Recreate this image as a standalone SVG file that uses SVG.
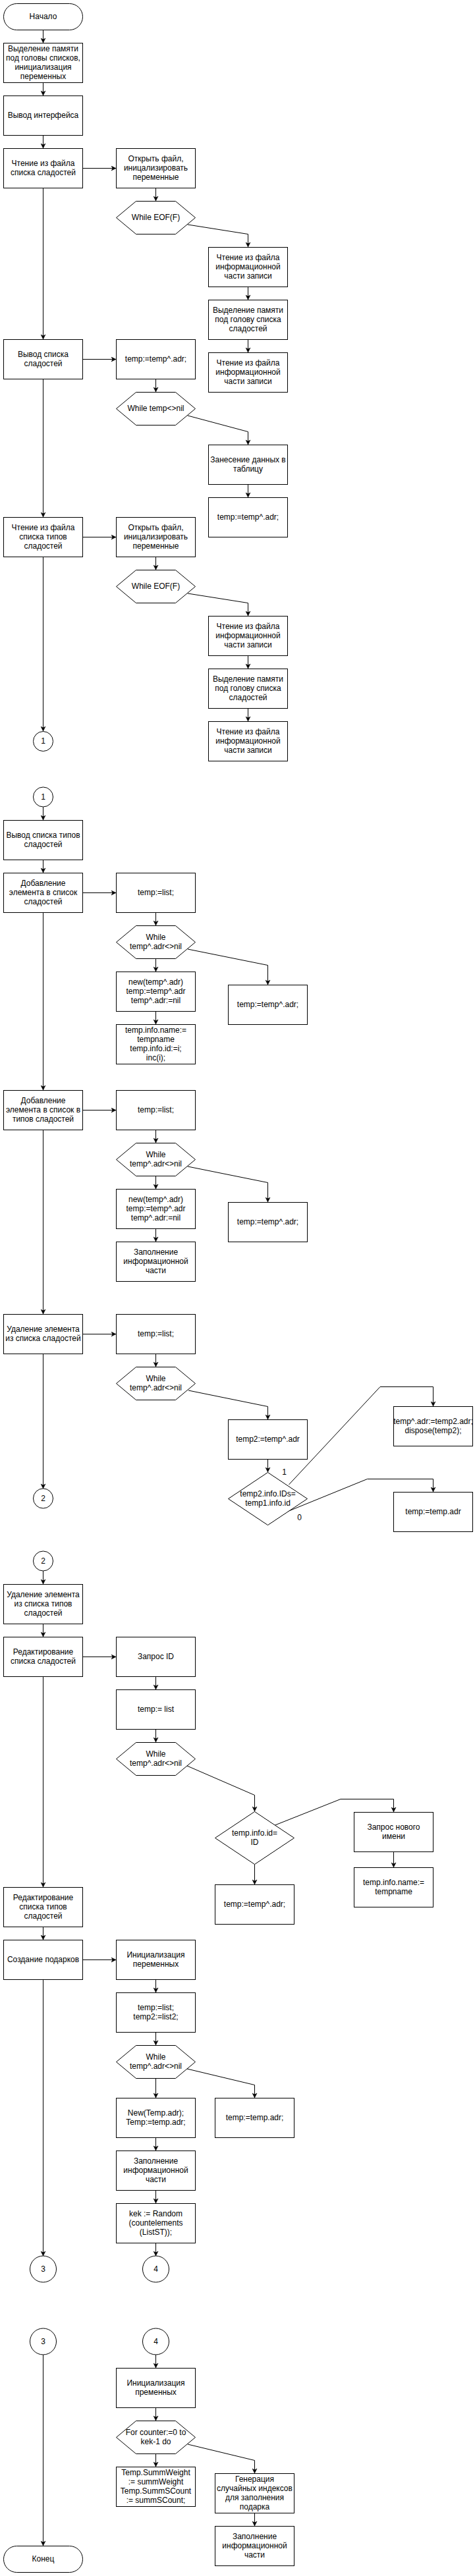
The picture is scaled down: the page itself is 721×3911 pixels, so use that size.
<svg xmlns="http://www.w3.org/2000/svg" width="721" height="3911" viewBox="0 0 721 3911">
<style>
rect,polygon,ellipse{fill:#fff;stroke:#000;stroke-width:1}
text{font-family:"Liberation Sans",Arial,sans-serif;font-size:12px;text-anchor:middle;fill:#000}
.e{fill:none;stroke:#000;stroke-width:1;marker-end:url(#a)}
.l{fill:none;stroke:#000;stroke-width:1}
</style>
<defs>
<marker id="a" viewBox="-8 -4 9 8" refX="0" refY="0" markerWidth="9" markerHeight="8" markerUnits="userSpaceOnUse" orient="auto"><path d="M0,0 L-7,-3.5 L-5,0 L-7,3.5 Z" fill="#000" stroke="#000" stroke-width="0.5"/></marker>
</defs>
<rect width="721" height="3911" style="fill:#fff;stroke:none"/>
<g id="connectors">
<path class="e" d="M65.5,45.5V65"/>
<path class="e" d="M65.5,125.5V145"/>
<path class="e" d="M65.5,205.5V225"/>
<path class="e" d="M65.5,285.5V515"/>
<path class="e" d="M65.5,575.5V785"/>
<path class="e" d="M65.5,845.5V1110"/>
<path class="e" d="M65.5,1225V1245"/>
<path class="e" d="M65.5,1305.5V1325"/>
<path class="e" d="M65.5,1385.5V1655"/>
<path class="e" d="M65.5,1715.5V1995"/>
<path class="e" d="M65.5,2055.5V2260"/>
<path class="e" d="M65.5,2385V2405"/>
<path class="e" d="M65.5,2465.5V2485"/>
<path class="e" d="M65.5,2545.5V2865"/>
<path class="e" d="M65.5,2925.5V2945"/>
<path class="e" d="M65.5,3005.5V3425"/>
<path class="e" d="M65.5,3575V3865"/>
<path class="e" d="M125.5,255.5H176"/>
<path class="e" d="M125.5,545.5H176"/>
<path class="e" d="M125.5,815.5H176"/>
<path class="e" d="M125.5,1355.5H176"/>
<path class="e" d="M125.5,1685.5H176"/>
<path class="e" d="M125.5,2025.5H176"/>
<path class="e" d="M125.5,2515.5H176"/>
<path class="e" d="M125.5,2975.5H176"/>
<path class="e" d="M236.5,285.5V305"/>
<path class="e" d="M236.5,575.5V595"/>
<path class="e" d="M236.5,845.5V865"/>
<path class="e" d="M236.5,1385.5V1405"/>
<path class="e" d="M236.5,1455.5V1475"/>
<path class="e" d="M236.5,1535.5V1555"/>
<path class="e" d="M236.5,1715.5V1735"/>
<path class="e" d="M236.5,1785.5V1805"/>
<path class="e" d="M236.5,1865.5V1885"/>
<path class="e" d="M236.5,2055.5V2075"/>
<path class="e" d="M236.5,2545.5V2565"/>
<path class="e" d="M236.5,2625.5V2645"/>
<path class="e" d="M236.5,3005.5V3025"/>
<path class="e" d="M236.5,3085.5V3105"/>
<path class="e" d="M236.5,3155.5V3185"/>
<path class="e" d="M236.5,3245.5V3265"/>
<path class="e" d="M236.5,3325.5V3345"/>
<path class="e" d="M236.5,3405.5V3425"/>
<path class="e" d="M236.5,3575V3595"/>
<path class="e" d="M236.5,3655.5V3675"/>
<path class="e" d="M236.5,3725.5V3745"/>
<path class="e" d="M376.5,435.5V455"/>
<path class="e" d="M376.5,515.5V535"/>
<path class="e" d="M376.5,735.5V755"/>
<path class="e" d="M376.5,995.5V1015"/>
<path class="e" d="M376.5,1075.5V1095"/>
<path class="e" d="M285,341L376.5,355.5V375"/>
<path class="e" d="M285,631L376.5,655.5V675"/>
<path class="e" d="M285,901L376.5,915.5V935"/>
<path class="e" d="M285,1441L406.5,1465.5V1495"/>
<path class="e" d="M285,1771L406.5,1795.5V1825"/>
<path class="e" d="M286,2111L406.5,2135.5V2155"/>
<path class="e" d="M284,2681L386.5,2725.5V2750"/>
<path class="e" d="M284,3141L386.5,3165.5V3185"/>
<path class="e" d="M285,3711L386.5,3735.5V3755"/>
<path class="e" d="M406.5,2215.5V2235"/>
<path class="e" d="M438.5,2254L577,2105.5H657.5V2135"/>
<path class="e" d="M436,2295L557.5,2245.5H657.5V2265"/>
<path class="e" d="M386.5,2830.5V2861"/>
<path class="e" d="M417.5,2771L517,2731.5H597.5V2751"/>
<path class="e" d="M597.5,2811.5V2835"/>
<path class="e" d="M386.5,3815.5V3835"/>
<text x="431.5" y="2239">1</text>
<text x="454.5" y="2308">0</text>
</g>
<g id="n_start"><rect x="5.5" y="5.5" width="120" height="40" rx="20" ry="20"/><text x="65.5" y="29">Начало</text></g>
<g id="n1"><rect x="5.5" y="65.5" width="120" height="60"/><text x="65.5" y="78"><tspan x="65.5">Выделение памяти</tspan><tspan x="65.5" dy="14">под головы списков,</tspan><tspan x="65.5" dy="14">инициализация</tspan><tspan x="65.5" dy="14">переменных</tspan></text></g>
<g id="n2"><rect x="5.5" y="145.5" width="120" height="60"/><text x="65.5" y="179">Вывод интерфейса</text></g>
<g id="n3"><rect x="5.5" y="225.5" width="120" height="60"/><text x="65.5" y="252"><tspan x="65.5">Чтение из файла</tspan><tspan x="65.5" dy="14">списка сладостей</tspan></text></g>
<g id="n4"><rect x="176.5" y="225.5" width="120" height="60"/><text x="236.5" y="245"><tspan x="236.5">Открыть файл,</tspan><tspan x="236.5" dy="14">иницализировать</tspan><tspan x="236.5" dy="14">переменные</tspan></text></g>
<g id="n5"><polygon points="176.5,330.5 206.5,305.5 266.5,305.5 296.5,330.5 266.5,355.5 206.5,355.5"/><text x="236.5" y="334">While EOF(F)</text></g>
<g id="n6"><rect x="316.5" y="375.5" width="120" height="60"/><text x="376.5" y="395"><tspan x="376.5">Чтение из файла</tspan><tspan x="376.5" dy="14">информационной</tspan><tspan x="376.5" dy="14">части записи</tspan></text></g>
<g id="n7"><rect x="316.5" y="455.5" width="120" height="60"/><text x="376.5" y="475"><tspan x="376.5">Выделение памяти</tspan><tspan x="376.5" dy="14">под голову списка</tspan><tspan x="376.5" dy="14">сладостей</tspan></text></g>
<g id="n8"><rect x="316.5" y="535.5" width="120" height="60"/><text x="376.5" y="555"><tspan x="376.5">Чтение из файла</tspan><tspan x="376.5" dy="14">информационной</tspan><tspan x="376.5" dy="14">части записи</tspan></text></g>
<g id="n9"><rect x="5.5" y="515.5" width="120" height="60"/><text x="65.5" y="542"><tspan x="65.5">Вывод списка</tspan><tspan x="65.5" dy="14">сладостей</tspan></text></g>
<g id="n10"><rect x="176.5" y="515.5" width="120" height="60"/><text x="236.5" y="549">temp:=temp^.adr;</text></g>
<g id="n11"><polygon points="176.5,620.5 206.5,595.5 266.5,595.5 296.5,620.5 266.5,645.5 206.5,645.5"/><text x="236.5" y="624">While temp&lt;&gt;nil</text></g>
<g id="n12"><rect x="316.5" y="675.5" width="120" height="60"/><text x="376.5" y="702"><tspan x="376.5">Занесение данных в</tspan><tspan x="376.5" dy="14">таблицу</tspan></text></g>
<g id="n13"><rect x="316.5" y="755.5" width="120" height="60"/><text x="376.5" y="789">temp:=temp^.adr;</text></g>
<g id="n14"><rect x="5.5" y="785.5" width="120" height="60"/><text x="65.5" y="805"><tspan x="65.5">Чтение из файла</tspan><tspan x="65.5" dy="14">списка типов</tspan><tspan x="65.5" dy="14">сладостей</tspan></text></g>
<g id="n15"><rect x="176.5" y="785.5" width="120" height="60"/><text x="236.5" y="805"><tspan x="236.5">Открыть файл,</tspan><tspan x="236.5" dy="14">иницализировать</tspan><tspan x="236.5" dy="14">переменные</tspan></text></g>
<g id="n16"><polygon points="176.5,890.5 206.5,865.5 266.5,865.5 296.5,890.5 266.5,915.5 206.5,915.5"/><text x="236.5" y="894">While EOF(F)</text></g>
<g id="n17"><rect x="316.5" y="935.5" width="120" height="60"/><text x="376.5" y="955"><tspan x="376.5">Чтение из файла</tspan><tspan x="376.5" dy="14">информационной</tspan><tspan x="376.5" dy="14">части записи</tspan></text></g>
<g id="n18"><rect x="316.5" y="1015.5" width="120" height="60"/><text x="376.5" y="1035"><tspan x="376.5">Выделение памяти</tspan><tspan x="376.5" dy="14">под голову списка</tspan><tspan x="376.5" dy="14">сладостей</tspan></text></g>
<g id="n19"><rect x="316.5" y="1095.5" width="120" height="60"/><text x="376.5" y="1115"><tspan x="376.5">Чтение из файла</tspan><tspan x="376.5" dy="14">информационной</tspan><tspan x="376.5" dy="14">части записи</tspan></text></g>
<g id="c1a"><ellipse cx="65.5" cy="1125.5" rx="15" ry="15"/><text x="65.5" y="1129">1</text></g>
<g id="c1b"><ellipse cx="65.5" cy="1210" rx="15" ry="15"/><text x="65.5" y="1214">1</text></g>
<g id="n20"><rect x="5.5" y="1245.5" width="120" height="60"/><text x="65.5" y="1272"><tspan x="65.5">Вывод списка типов</tspan><tspan x="65.5" dy="14">сладостей</tspan></text></g>
<g id="n21"><rect x="5.5" y="1325.5" width="120" height="60"/><text x="65.5" y="1345"><tspan x="65.5">Добавление</tspan><tspan x="65.5" dy="14">элемента в список</tspan><tspan x="65.5" dy="14">сладостей</tspan></text></g>
<g id="n22"><rect x="176.5" y="1325.5" width="120" height="60"/><text x="236.5" y="1359">temp:=list;</text></g>
<g id="n23"><polygon points="176.5,1430.5 206.5,1405.5 266.5,1405.5 296.5,1430.5 266.5,1455.5 206.5,1455.5"/><text x="236.5" y="1427"><tspan x="236.5">While</tspan><tspan x="236.5" dy="14">temp^.adr&lt;&gt;nil</tspan></text></g>
<g id="n24"><rect x="176.5" y="1475.5" width="120" height="60"/><text x="236.5" y="1495"><tspan x="236.5">new(temp^.adr)</tspan><tspan x="236.5" dy="14">temp:=temp^.adr</tspan><tspan x="236.5" dy="14">temp^.adr:=nil</tspan></text></g>
<g id="n25"><rect x="176.5" y="1555.5" width="120" height="60"/><text x="236.5" y="1568"><tspan x="236.5">temp.info.name:=</tspan><tspan x="236.5" dy="14">tempname</tspan><tspan x="236.5" dy="14">temp.info.id:=i;</tspan><tspan x="236.5" dy="14">inc(i);</tspan></text></g>
<g id="n26"><rect x="346.5" y="1495.5" width="120" height="60"/><text x="406.5" y="1529">temp:=temp^.adr;</text></g>
<g id="n27"><rect x="5.5" y="1655.5" width="120" height="60"/><text x="65.5" y="1675"><tspan x="65.5">Добавление</tspan><tspan x="65.5" dy="14">элемента в список в</tspan><tspan x="65.5" dy="14">типов сладостей</tspan></text></g>
<g id="n28"><rect x="176.5" y="1655.5" width="120" height="60"/><text x="236.5" y="1689">temp:=list;</text></g>
<g id="n29"><polygon points="176.5,1760.5 206.5,1735.5 266.5,1735.5 296.5,1760.5 266.5,1785.5 206.5,1785.5"/><text x="236.5" y="1757"><tspan x="236.5">While</tspan><tspan x="236.5" dy="14">temp^.adr&lt;&gt;nil</tspan></text></g>
<g id="n30"><rect x="176.5" y="1805.5" width="120" height="60"/><text x="236.5" y="1825"><tspan x="236.5">new(temp^.adr)</tspan><tspan x="236.5" dy="14">temp:=temp^.adr</tspan><tspan x="236.5" dy="14">temp^.adr:=nil</tspan></text></g>
<g id="n31"><rect x="176.5" y="1885.5" width="120" height="60"/><text x="236.5" y="1905"><tspan x="236.5">Заполнение</tspan><tspan x="236.5" dy="14">информационной</tspan><tspan x="236.5" dy="14">части</tspan></text></g>
<g id="n32"><rect x="346.5" y="1825.5" width="120" height="60"/><text x="406.5" y="1859">temp:=temp^.adr;</text></g>
<g id="n33"><rect x="5.5" y="1995.5" width="120" height="60"/><text x="65.5" y="2022"><tspan x="65.5">Удаление элемента</tspan><tspan x="65.5" dy="14">из списка сладостей</tspan></text></g>
<g id="n34"><rect x="176.5" y="1995.5" width="120" height="60"/><text x="236.5" y="2029">temp:=list;</text></g>
<g id="n35"><polygon points="176.5,2100.5 206.5,2075.5 266.5,2075.5 296.5,2100.5 266.5,2125.5 206.5,2125.5"/><text x="236.5" y="2097"><tspan x="236.5">While</tspan><tspan x="236.5" dy="14">temp^.adr&lt;&gt;nil</tspan></text></g>
<g id="n36"><rect x="346.5" y="2155.5" width="120" height="60"/><text x="406.5" y="2189">temp2:=temp^.adr</text></g>
<g id="n37"><polygon points="406.5,2235.5 466.5,2275.5 406.5,2315.5 346.5,2275.5"/><text x="406.5" y="2272"><tspan x="406.5">temp2.info.IDs=</tspan><tspan x="406.5" dy="14">temp1.info.id</tspan></text></g>
<g id="n38"><rect x="597.5" y="2135.5" width="120" height="60"/><text x="657.5" y="2162"><tspan x="657.5">temp^.adr:=temp2.adr;</tspan><tspan x="657.5" dy="14">dispose(temp2);</tspan></text></g>
<g id="n39"><rect x="597.5" y="2265.5" width="120" height="60"/><text x="657.5" y="2299">temp:=temp.adr</text></g>
<g id="c2a"><ellipse cx="65.5" cy="2275" rx="15" ry="15"/><text x="65.5" y="2279">2</text></g>
<g id="c2b"><ellipse cx="65.5" cy="2370" rx="15" ry="15"/><text x="65.5" y="2374">2</text></g>
<g id="n40"><rect x="5.5" y="2405.5" width="120" height="60"/><text x="65.5" y="2425"><tspan x="65.5">Удаление элемента</tspan><tspan x="65.5" dy="14">из списка типов</tspan><tspan x="65.5" dy="14">сладостей</tspan></text></g>
<g id="n41"><rect x="5.5" y="2485.5" width="120" height="60"/><text x="65.5" y="2512"><tspan x="65.5">Редактирование</tspan><tspan x="65.5" dy="14">списка сладостей</tspan></text></g>
<g id="n42"><rect x="176.5" y="2485.5" width="120" height="60"/><text x="236.5" y="2519">Запрос ID</text></g>
<g id="n43"><rect x="176.5" y="2565.5" width="120" height="60"/><text x="236.5" y="2599">temp:= list</text></g>
<g id="n44"><polygon points="176.5,2670.5 206.5,2645.5 266.5,2645.5 296.5,2670.5 266.5,2695.5 206.5,2695.5"/><text x="236.5" y="2667"><tspan x="236.5">While</tspan><tspan x="236.5" dy="14">temp^.adr&lt;&gt;nil</tspan></text></g>
<g id="n45"><polygon points="386.5,2750.5 446.5,2790.5 386.5,2830.5 326.5,2790.5"/><text x="386.5" y="2787"><tspan x="386.5">temp.info.id=</tspan><tspan x="386.5" dy="14">ID</tspan></text></g>
<g id="n46"><rect x="326.5" y="2861.5" width="120" height="60"/><text x="386.5" y="2895">temp:=temp^.adr;</text></g>
<g id="n47"><rect x="537.5" y="2751.5" width="120" height="60"/><text x="597.5" y="2778"><tspan x="597.5">Запрос нового</tspan><tspan x="597.5" dy="14">имени</tspan></text></g>
<g id="n48"><rect x="537.5" y="2835.5" width="120" height="60"/><text x="597.5" y="2862"><tspan x="597.5">temp.info.name:=</tspan><tspan x="597.5" dy="14">tempname</tspan></text></g>
<g id="n49"><rect x="5.5" y="2865.5" width="120" height="60"/><text x="65.5" y="2885"><tspan x="65.5">Редактирование</tspan><tspan x="65.5" dy="14">списка типов</tspan><tspan x="65.5" dy="14">сладостей</tspan></text></g>
<g id="n50"><rect x="5.5" y="2945.5" width="120" height="60"/><text x="65.5" y="2979">Создание подарков</text></g>
<g id="n51"><rect x="176.5" y="2945.5" width="120" height="60"/><text x="236.5" y="2972"><tspan x="236.5">Инициализация</tspan><tspan x="236.5" dy="14">переменных</tspan></text></g>
<g id="n52"><rect x="176.5" y="3025.5" width="120" height="60"/><text x="236.5" y="3052"><tspan x="236.5">temp:=list;</tspan><tspan x="236.5" dy="14">temp2:=list2;</tspan></text></g>
<g id="n53"><polygon points="176.5,3130.5 206.5,3105.5 266.5,3105.5 296.5,3130.5 266.5,3155.5 206.5,3155.5"/><text x="236.5" y="3127"><tspan x="236.5">While</tspan><tspan x="236.5" dy="14">temp^.adr&lt;&gt;nil</tspan></text></g>
<g id="n54"><rect x="176.5" y="3185.5" width="120" height="60"/><text x="236.5" y="3212"><tspan x="236.5">New(Temp.adr);</tspan><tspan x="236.5" dy="14">Temp:=temp.adr;</tspan></text></g>
<g id="n55"><rect x="326.5" y="3185.5" width="120" height="60"/><text x="386.5" y="3219">temp:=temp.adr;</text></g>
<g id="n56"><rect x="176.5" y="3265.5" width="120" height="60"/><text x="236.5" y="3285"><tspan x="236.5">Заполнение</tspan><tspan x="236.5" dy="14">информационной</tspan><tspan x="236.5" dy="14">части</tspan></text></g>
<g id="n57"><rect x="176.5" y="3345.5" width="120" height="60"/><text x="236.5" y="3365"><tspan x="236.5">kek := Random</tspan><tspan x="236.5" dy="14">(countelements</tspan><tspan x="236.5" dy="14">(ListST));</tspan></text></g>
<g id="c3a"><ellipse cx="65.5" cy="3445" rx="20" ry="20"/><text x="65.5" y="3449">3</text></g>
<g id="c4a"><ellipse cx="236.5" cy="3445" rx="20" ry="20"/><text x="236.5" y="3449">4</text></g>
<g id="c3b"><ellipse cx="65.5" cy="3555" rx="20" ry="20"/><text x="65.5" y="3559">3</text></g>
<g id="c4b"><ellipse cx="236.5" cy="3555" rx="20" ry="20"/><text x="236.5" y="3559">4</text></g>
<g id="n58"><rect x="176.5" y="3595.5" width="120" height="60"/><text x="236.5" y="3622"><tspan x="236.5">Инициализация</tspan><tspan x="236.5" dy="14">пременных</tspan></text></g>
<g id="n59"><polygon points="176.5,3700.5 206.5,3675.5 266.5,3675.5 296.5,3700.5 266.5,3725.5 206.5,3725.5"/><text x="236.5" y="3697"><tspan x="236.5">For counter:=0 to</tspan><tspan x="236.5" dy="14">kek-1 do</tspan></text></g>
<g id="n60"><rect x="176.5" y="3745.5" width="120" height="60"/><text x="236.5" y="3758"><tspan x="236.5">Temp.SummWeight</tspan><tspan x="236.5" dy="14">:= summWeight</tspan><tspan x="236.5" dy="14">Temp.SummSCount</tspan><tspan x="236.5" dy="14">:= summSCount;</tspan></text></g>
<g id="n61"><rect x="326.5" y="3755.5" width="120" height="60"/><text x="386.5" y="3768"><tspan x="386.5">Генерация</tspan><tspan x="386.5" dy="14">случайных индексов</tspan><tspan x="386.5" dy="14">для заполнения</tspan><tspan x="386.5" dy="14">подарка</tspan></text></g>
<g id="n62"><rect x="326.5" y="3835.5" width="120" height="60"/><text x="386.5" y="3855"><tspan x="386.5">Заполнение</tspan><tspan x="386.5" dy="14">информационной</tspan><tspan x="386.5" dy="14">части</tspan></text></g>
<g id="n_end"><rect x="5.5" y="3865.5" width="120" height="40" rx="20" ry="20"/><text x="65.5" y="3889">Конец</text></g>
</svg>
